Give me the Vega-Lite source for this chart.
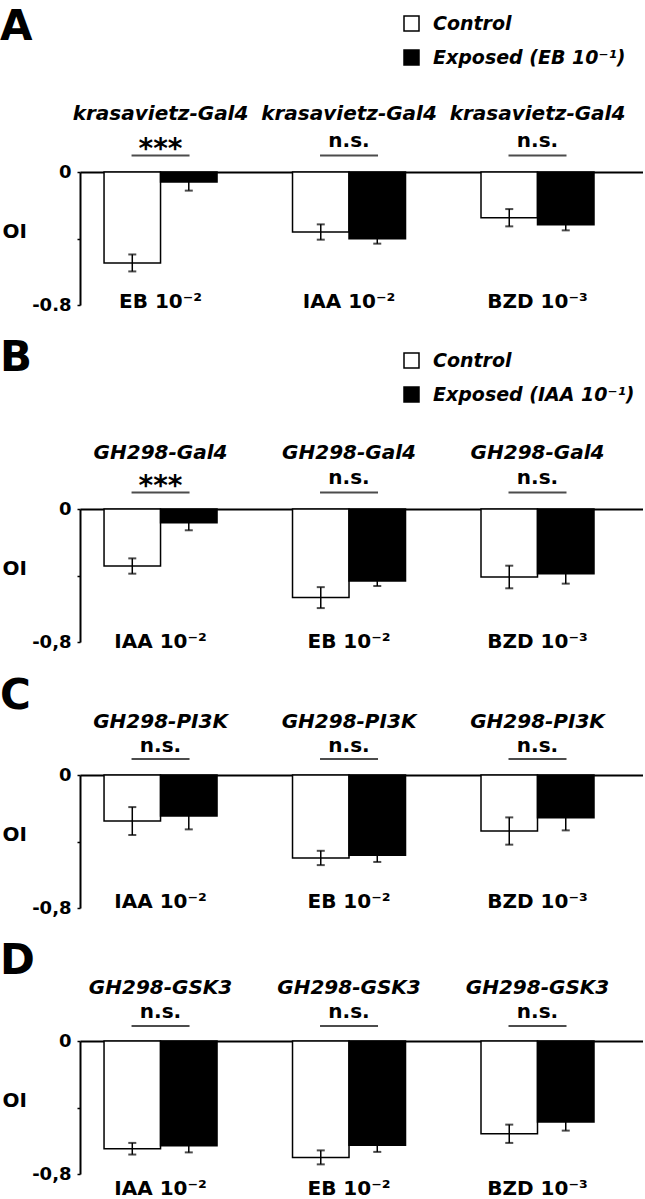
{
  "$schema": "https://vega.github.io/schema/vega-lite/v6.json",
  "padding": {"left": 0, "top": 6, "right": 0, "bottom": 0},
  "background": "white",
  "spacing": 23,
  "config": {
    "view": {"stroke": null},
    "font": "DejaVu Sans",
    "title": {"fontSize": 42, "fontWeight": "bold", "anchor": "start", "frame": "group", "dx": -80, "baseline": "top", "color": "black", "font": "DejaVu Sans"},
    "axisY": {"grid": false, "tickSize": 3, "tickWidth": 1.5, "tickColor": "black", "domainWidth": 2, "domainColor": "black", "labelFontSize": 18, "labelFontWeight": "bold", "labelColor": "black", "labelPadding": 6, "labelOverlap": false, "labelFlush": false, "titleAngle": 0, "titleX": -78, "titleY": 59, "titleAlign": "left", "titleBaseline": "middle", "titleFontSize": 20, "titleFontWeight": "bold", "titleColor": "black"},
    "text": {"font": "DejaVu Sans", "fontWeight": "bold", "fontSize": 20, "color": "black"},
    "legend": {"title": null, "orient": "none", "symbolType": "square", "symbolSize": 225, "symbolStrokeColor": "black", "symbolStrokeWidth": 1.5, "labelFontSize": 19, "labelFontStyle": "italic", "labelFontWeight": "bold", "labelColor": "black", "labelOffset": 12, "rowPadding": 13, "padding": 0, "labelLimit": 400, "symbolOpacity": 1}
  },
  "datasets": {
    "bars": [
      {"panel": "A", "odor": "EB 10⁻²", "cond": "Control", "mean": -0.547, "lo": -0.598, "hi": -0.496, "geno": "krasavietz-Gal4", "sig": "***"},
      {"panel": "A", "odor": "EB 10⁻²", "cond": "Exposed (EB 10⁻¹)", "mean": -0.060, "lo": -0.112, "hi": -0.008, "geno": "krasavietz-Gal4", "sig": "***"},
      {"panel": "A", "odor": "IAA 10⁻²", "cond": "Control", "mean": -0.361, "lo": -0.407, "hi": -0.315, "geno": "krasavietz-Gal4", "sig": "n.s."},
      {"panel": "A", "odor": "IAA 10⁻²", "cond": "Exposed (EB 10⁻¹)", "mean": -0.401, "lo": -0.431, "hi": -0.371, "geno": "krasavietz-Gal4", "sig": "n.s."},
      {"panel": "A", "odor": "BZD 10⁻³", "cond": "Control", "mean": -0.275, "lo": -0.327, "hi": -0.223, "geno": "krasavietz-Gal4", "sig": "n.s."},
      {"panel": "A", "odor": "BZD 10⁻³", "cond": "Exposed (EB 10⁻¹)", "mean": -0.317, "lo": -0.351, "hi": -0.283, "geno": "krasavietz-Gal4", "sig": "n.s."},
      {"panel": "B", "odor": "IAA 10⁻²", "cond": "Control", "mean": -0.343, "lo": -0.389, "hi": -0.297, "geno": "GH298-Gal4", "sig": "***"},
      {"panel": "B", "odor": "IAA 10⁻²", "cond": "Exposed (IAA 10⁻¹)", "mean": -0.082, "lo": -0.128, "hi": -0.036, "geno": "GH298-Gal4", "sig": "***"},
      {"panel": "B", "odor": "EB 10⁻²", "cond": "Control", "mean": -0.533, "lo": -0.596, "hi": -0.470, "geno": "GH298-Gal4", "sig": "n.s."},
      {"panel": "B", "odor": "EB 10⁻²", "cond": "Exposed (IAA 10⁻¹)", "mean": -0.433, "lo": -0.463, "hi": -0.403, "geno": "GH298-Gal4", "sig": "n.s."},
      {"panel": "B", "odor": "BZD 10⁻³", "cond": "Control", "mean": -0.409, "lo": -0.477, "hi": -0.341, "geno": "GH298-Gal4", "sig": "n.s."},
      {"panel": "B", "odor": "BZD 10⁻³", "cond": "Exposed (IAA 10⁻¹)", "mean": -0.389, "lo": -0.449, "hi": -0.329, "geno": "GH298-Gal4", "sig": "n.s."},
      {"panel": "C", "odor": "IAA 10⁻²", "cond": "Control", "mean": -0.277, "lo": -0.361, "hi": -0.193, "geno": "GH298-PI3K", "sig": "n.s."},
      {"panel": "C", "odor": "IAA 10⁻²", "cond": "Exposed", "mean": -0.247, "lo": -0.327, "hi": -0.167, "geno": "GH298-PI3K", "sig": "n.s."},
      {"panel": "C", "odor": "EB 10⁻²", "cond": "Control", "mean": -0.499, "lo": -0.542, "hi": -0.456, "geno": "GH298-PI3K", "sig": "n.s."},
      {"panel": "C", "odor": "EB 10⁻²", "cond": "Exposed", "mean": -0.483, "lo": -0.523, "hi": -0.443, "geno": "GH298-PI3K", "sig": "n.s."},
      {"panel": "C", "odor": "BZD 10⁻³", "cond": "Control", "mean": -0.337, "lo": -0.419, "hi": -0.255, "geno": "GH298-PI3K", "sig": "n.s."},
      {"panel": "C", "odor": "BZD 10⁻³", "cond": "Exposed", "mean": -0.257, "lo": -0.333, "hi": -0.181, "geno": "GH298-PI3K", "sig": "n.s."},
      {"panel": "D", "odor": "IAA 10⁻²", "cond": "Control", "mean": -0.648, "lo": -0.683, "hi": -0.613, "geno": "GH298-GSK3", "sig": "n.s."},
      {"panel": "D", "odor": "IAA 10⁻²", "cond": "Exposed", "mean": -0.630, "lo": -0.670, "hi": -0.590, "geno": "GH298-GSK3", "sig": "n.s."},
      {"panel": "D", "odor": "EB 10⁻²", "cond": "Control", "mean": -0.700, "lo": -0.742, "hi": -0.658, "geno": "GH298-GSK3", "sig": "n.s."},
      {"panel": "D", "odor": "EB 10⁻²", "cond": "Exposed", "mean": -0.627, "lo": -0.667, "hi": -0.587, "geno": "GH298-GSK3", "sig": "n.s."},
      {"panel": "D", "odor": "BZD 10⁻³", "cond": "Control", "mean": -0.558, "lo": -0.613, "hi": -0.503, "geno": "GH298-GSK3", "sig": "n.s."},
      {"panel": "D", "odor": "BZD 10⁻³", "cond": "Exposed", "mean": -0.487, "lo": -0.539, "hi": -0.435, "geno": "GH298-GSK3", "sig": "n.s."}
    ]
  },
  "resolve": {"scale": {"fill": "independent"}, "legend": {"fill": "independent"}},
  "vconcat": [
    {
      "title": {"text": "A", "offset": -35},
      "width": 563, "height": 133,
      "data": {"name": "bars"},
      "transform": [{"filter": "datum.panel == 'A'"}],
      "encoding": {
        "x": {"field": "odor", "type": "nominal", "sort": null, "scale": {"paddingInner": 0.398, "paddingOuter": 0.1925, "align": 0.328}, "axis": {"orient": "top", "labels": false, "ticks": false, "title": null, "domainWidth": 2, "domainColor": "black"}}
      },
      "layer": [
        {"transform": [{"filter": "datum.cond == 'Control'"}],
         "mark": {"type": "bar", "stroke": "black", "strokeWidth": 1.5, "width": 56.5, "xOffset": -28.25},
         "encoding": {
           "y": {"field": "mean", "type": "quantitative", "scale": {"domain": [-0.8, 0], "nice": false, "zero": false}, "axis": {"title": "OI", "values": [0, -0.1, -0.2, -0.3, -0.4, -0.5, -0.6, -0.7, -0.8], "labelExpr": "datum.value == 0 ? '0' : (datum.value < -0.79 ? '-0.8' : '')"}},
           "fill": {"field": "cond", "type": "nominal", "scale": {"range": ["white", "black"]}, "legend": {"legendX": 322, "legendY": -158}}
         }},
        {"transform": [{"filter": "datum.cond != 'Control'"}],
         "mark": {"type": "bar", "stroke": "black", "strokeWidth": 1.5, "width": 56.5, "xOffset": 28.25},
         "encoding": {
           "y": {"field": "mean", "type": "quantitative"},
           "fill": {"field": "cond", "type": "nominal", "legend": {"legendX": 322, "legendY": -158}}
         }},
        {"transform": [{"filter": "datum.cond == 'Control'"}],
         "mark": {"type": "rule", "strokeWidth": 1.5, "color": "black", "xOffset": -28.25},
         "encoding": {"y": {"field": "lo", "type": "quantitative"}, "y2": {"field": "hi"}}},
        {"transform": [{"filter": "datum.cond != 'Control'"}],
         "mark": {"type": "rule", "strokeWidth": 1.5, "color": "black", "xOffset": 28.25},
         "encoding": {"y": {"field": "lo", "type": "quantitative"}, "y2": {"field": "hi"}}},
        {"transform": [{"filter": "datum.cond == 'Control'"}, {"fold": ["lo", "hi"], "as": ["end", "endval"]}],
         "mark": {"type": "tick", "orient": "horizontal", "size": 8, "thickness": 2, "color": "black", "xOffset": -28.25},
         "encoding": {"y": {"field": "endval", "type": "quantitative"}}},
        {"transform": [{"filter": "datum.cond != 'Control'"}, {"fold": ["lo", "hi"], "as": ["end", "endval"]}],
         "mark": {"type": "tick", "orient": "horizontal", "size": 8, "thickness": 2, "color": "black", "xOffset": 28.25},
         "encoding": {"y": {"field": "endval", "type": "quantitative"}}},
        {"transform": [{"filter": "datum.cond == 'Control'"}],
         "mark": {"type": "text", "fontStyle": "italic", "baseline": "alphabetic", "dy": -52},
         "encoding": {"y": {"datum": 0, "type": "quantitative"}, "text": {"field": "geno"}}},
        {"transform": [{"filter": "datum.cond == 'Control' && datum.sig == 'n.s.'"}],
         "mark": {"type": "text", "baseline": "alphabetic", "dy": -25},
         "encoding": {"y": {"datum": 0, "type": "quantitative"}, "text": {"field": "sig"}}},
        {"transform": [{"filter": "datum.cond == 'Control' && datum.sig == '***'"}],
         "mark": {"type": "text", "baseline": "alphabetic", "fontSize": 28, "dy": -14},
         "encoding": {"y": {"datum": 0, "type": "quantitative"}, "text": {"field": "sig"}}},
        {"transform": [{"filter": "datum.cond == 'Control'"}],
         "mark": {"type": "tick", "orient": "horizontal", "size": 58, "thickness": 2, "color": "black", "yOffset": -16.5},
         "encoding": {"y": {"datum": 0, "type": "quantitative"}}},
        {"transform": [{"filter": "datum.cond == 'Control'"}],
         "mark": {"type": "text", "baseline": "middle", "dy": -3},
         "encoding": {"y": {"datum": -0.8, "type": "quantitative"}, "text": {"field": "odor"}}}
      ]
    },
    {
      "title": {"text": "B", "offset": -29},
      "width": 563, "height": 133,
      "data": {"name": "bars"},
      "transform": [{"filter": "datum.panel == 'B'"}],
      "encoding": {
        "x": {"field": "odor", "type": "nominal", "sort": null, "scale": {"paddingInner": 0.398, "paddingOuter": 0.1925, "align": 0.328}, "axis": {"orient": "top", "labels": false, "ticks": false, "title": null, "domainWidth": 2, "domainColor": "black"}}
      },
      "layer": [
        {"transform": [{"filter": "datum.cond == 'Control'"}],
         "mark": {"type": "bar", "stroke": "black", "strokeWidth": 1.5, "width": 56.5, "xOffset": -28.25},
         "encoding": {
           "y": {"field": "mean", "type": "quantitative", "scale": {"domain": [-0.8, 0], "nice": false, "zero": false}, "axis": {"title": "OI", "values": [0, -0.1, -0.2, -0.3, -0.4, -0.5, -0.6, -0.7, -0.8], "labelExpr": "datum.value == 0 ? '0' : (datum.value < -0.79 ? '-0,8' : '')"}},
           "fill": {"field": "cond", "type": "nominal", "scale": {"range": ["white", "black"]}, "legend": {"legendX": 322, "legendY": -158}}
         }},
        {"transform": [{"filter": "datum.cond != 'Control'"}],
         "mark": {"type": "bar", "stroke": "black", "strokeWidth": 1.5, "width": 56.5, "xOffset": 28.25},
         "encoding": {
           "y": {"field": "mean", "type": "quantitative"},
           "fill": {"field": "cond", "type": "nominal", "legend": {"legendX": 322, "legendY": -158}}
         }},
        {"transform": [{"filter": "datum.cond == 'Control'"}],
         "mark": {"type": "rule", "strokeWidth": 1.5, "color": "black", "xOffset": -28.25},
         "encoding": {"y": {"field": "lo", "type": "quantitative"}, "y2": {"field": "hi"}}},
        {"transform": [{"filter": "datum.cond != 'Control'"}],
         "mark": {"type": "rule", "strokeWidth": 1.5, "color": "black", "xOffset": 28.25},
         "encoding": {"y": {"field": "lo", "type": "quantitative"}, "y2": {"field": "hi"}}},
        {"transform": [{"filter": "datum.cond == 'Control'"}, {"fold": ["lo", "hi"], "as": ["end", "endval"]}],
         "mark": {"type": "tick", "orient": "horizontal", "size": 8, "thickness": 2, "color": "black", "xOffset": -28.25},
         "encoding": {"y": {"field": "endval", "type": "quantitative"}}},
        {"transform": [{"filter": "datum.cond != 'Control'"}, {"fold": ["lo", "hi"], "as": ["end", "endval"]}],
         "mark": {"type": "tick", "orient": "horizontal", "size": 8, "thickness": 2, "color": "black", "xOffset": 28.25},
         "encoding": {"y": {"field": "endval", "type": "quantitative"}}},
        {"transform": [{"filter": "datum.cond == 'Control'"}],
         "mark": {"type": "text", "fontStyle": "italic", "baseline": "alphabetic", "dy": -50},
         "encoding": {"y": {"datum": 0, "type": "quantitative"}, "text": {"field": "geno"}}},
        {"transform": [{"filter": "datum.cond == 'Control' && datum.sig == 'n.s.'"}],
         "mark": {"type": "text", "baseline": "alphabetic", "dy": -25},
         "encoding": {"y": {"datum": 0, "type": "quantitative"}, "text": {"field": "sig"}}},
        {"transform": [{"filter": "datum.cond == 'Control' && datum.sig == '***'"}],
         "mark": {"type": "text", "baseline": "alphabetic", "fontSize": 28, "dy": -14},
         "encoding": {"y": {"datum": 0, "type": "quantitative"}, "text": {"field": "sig"}}},
        {"transform": [{"filter": "datum.cond == 'Control'"}],
         "mark": {"type": "tick", "orient": "horizontal", "size": 58, "thickness": 2, "color": "black", "yOffset": -16.5},
         "encoding": {"y": {"datum": 0, "type": "quantitative"}}},
        {"transform": [{"filter": "datum.cond == 'Control'"}],
         "mark": {"type": "text", "baseline": "middle", "dy": 0},
         "encoding": {"y": {"datum": -0.8, "type": "quantitative"}, "text": {"field": "odor"}}}
      ]
    },
    {
      "title": {"text": "C", "offset": -6},
      "width": 563, "height": 133,
      "data": {"name": "bars"},
      "transform": [{"filter": "datum.panel == 'C'"}],
      "encoding": {
        "x": {"field": "odor", "type": "nominal", "sort": null, "scale": {"paddingInner": 0.398, "paddingOuter": 0.1925, "align": 0.328}, "axis": {"orient": "top", "labels": false, "ticks": false, "title": null, "domainWidth": 2, "domainColor": "black"}}
      },
      "layer": [
        {"transform": [{"filter": "datum.cond == 'Control'"}],
         "mark": {"type": "bar", "stroke": "black", "strokeWidth": 1.5, "width": 56.5, "xOffset": -28.25},
         "encoding": {
           "y": {"field": "mean", "type": "quantitative", "scale": {"domain": [-0.8, 0], "nice": false, "zero": false}, "axis": {"title": "OI", "values": [0, -0.1, -0.2, -0.3, -0.4, -0.5, -0.6, -0.7, -0.8], "labelExpr": "datum.value == 0 ? '0' : (datum.value < -0.79 ? '-0,8' : '')"}},
           "fill": {"field": "cond", "type": "nominal", "scale": {"range": ["white", "black"]}, "legend": null}
         }},
        {"transform": [{"filter": "datum.cond != 'Control'"}],
         "mark": {"type": "bar", "stroke": "black", "strokeWidth": 1.5, "width": 56.5, "xOffset": 28.25},
         "encoding": {
           "y": {"field": "mean", "type": "quantitative"},
           "fill": {"field": "cond", "type": "nominal", "legend": null}
         }},
        {"transform": [{"filter": "datum.cond == 'Control'"}],
         "mark": {"type": "rule", "strokeWidth": 1.5, "color": "black", "xOffset": -28.25},
         "encoding": {"y": {"field": "lo", "type": "quantitative"}, "y2": {"field": "hi"}}},
        {"transform": [{"filter": "datum.cond != 'Control'"}],
         "mark": {"type": "rule", "strokeWidth": 1.5, "color": "black", "xOffset": 28.25},
         "encoding": {"y": {"field": "lo", "type": "quantitative"}, "y2": {"field": "hi"}}},
        {"transform": [{"filter": "datum.cond == 'Control'"}, {"fold": ["lo", "hi"], "as": ["end", "endval"]}],
         "mark": {"type": "tick", "orient": "horizontal", "size": 8, "thickness": 2, "color": "black", "xOffset": -28.25},
         "encoding": {"y": {"field": "endval", "type": "quantitative"}}},
        {"transform": [{"filter": "datum.cond != 'Control'"}, {"fold": ["lo", "hi"], "as": ["end", "endval"]}],
         "mark": {"type": "tick", "orient": "horizontal", "size": 8, "thickness": 2, "color": "black", "xOffset": 28.25},
         "encoding": {"y": {"field": "endval", "type": "quantitative"}}},
        {"transform": [{"filter": "datum.cond == 'Control'"}],
         "mark": {"type": "text", "fontStyle": "italic", "baseline": "alphabetic", "dy": -47},
         "encoding": {"y": {"datum": 0, "type": "quantitative"}, "text": {"field": "geno"}}},
        {"transform": [{"filter": "datum.cond == 'Control'"}],
         "mark": {"type": "text", "baseline": "alphabetic", "dy": -23},
         "encoding": {"y": {"datum": 0, "type": "quantitative"}, "text": {"field": "sig"}}},
        {"transform": [{"filter": "datum.cond == 'Control'"}],
         "mark": {"type": "tick", "orient": "horizontal", "size": 58, "thickness": 2, "color": "black", "yOffset": -16},
         "encoding": {"y": {"datum": 0, "type": "quantitative"}}},
        {"transform": [{"filter": "datum.cond == 'Control'"}],
         "mark": {"type": "text", "baseline": "middle", "dy": -6},
         "encoding": {"y": {"datum": -0.8, "type": "quantitative"}, "text": {"field": "odor"}}}
      ]
    },
    {
      "title": {"text": "D", "offset": -5},
      "width": 563, "height": 133,
      "data": {"name": "bars"},
      "transform": [{"filter": "datum.panel == 'D'"}],
      "encoding": {
        "x": {"field": "odor", "type": "nominal", "sort": null, "scale": {"paddingInner": 0.398, "paddingOuter": 0.1925, "align": 0.328}, "axis": {"orient": "top", "labels": false, "ticks": false, "title": null, "domainWidth": 2, "domainColor": "black"}}
      },
      "layer": [
        {"transform": [{"filter": "datum.cond == 'Control'"}],
         "mark": {"type": "bar", "stroke": "black", "strokeWidth": 1.5, "width": 56.5, "xOffset": -28.25},
         "encoding": {
           "y": {"field": "mean", "type": "quantitative", "scale": {"domain": [-0.8, 0], "nice": false, "zero": false}, "axis": {"title": "OI", "values": [0, -0.1, -0.2, -0.3, -0.4, -0.5, -0.6, -0.7, -0.8], "labelExpr": "datum.value == 0 ? '0' : (datum.value < -0.79 ? '-0,8' : '')"}},
           "fill": {"field": "cond", "type": "nominal", "scale": {"range": ["white", "black"]}, "legend": null}
         }},
        {"transform": [{"filter": "datum.cond != 'Control'"}],
         "mark": {"type": "bar", "stroke": "black", "strokeWidth": 1.5, "width": 56.5, "xOffset": 28.25},
         "encoding": {
           "y": {"field": "mean", "type": "quantitative"},
           "fill": {"field": "cond", "type": "nominal", "legend": null}
         }},
        {"transform": [{"filter": "datum.cond == 'Control'"}],
         "mark": {"type": "rule", "strokeWidth": 1.5, "color": "black", "xOffset": -28.25},
         "encoding": {"y": {"field": "lo", "type": "quantitative"}, "y2": {"field": "hi"}}},
        {"transform": [{"filter": "datum.cond != 'Control'"}],
         "mark": {"type": "rule", "strokeWidth": 1.5, "color": "black", "xOffset": 28.25},
         "encoding": {"y": {"field": "lo", "type": "quantitative"}, "y2": {"field": "hi"}}},
        {"transform": [{"filter": "datum.cond == 'Control'"}, {"fold": ["lo", "hi"], "as": ["end", "endval"]}],
         "mark": {"type": "tick", "orient": "horizontal", "size": 8, "thickness": 2, "color": "black", "xOffset": -28.25},
         "encoding": {"y": {"field": "endval", "type": "quantitative"}}},
        {"transform": [{"filter": "datum.cond != 'Control'"}, {"fold": ["lo", "hi"], "as": ["end", "endval"]}],
         "mark": {"type": "tick", "orient": "horizontal", "size": 8, "thickness": 2, "color": "black", "xOffset": 28.25},
         "encoding": {"y": {"field": "endval", "type": "quantitative"}}},
        {"transform": [{"filter": "datum.cond == 'Control'"}],
         "mark": {"type": "text", "fontStyle": "italic", "baseline": "alphabetic", "dy": -47},
         "encoding": {"y": {"datum": 0, "type": "quantitative"}, "text": {"field": "geno"}}},
        {"transform": [{"filter": "datum.cond == 'Control'"}],
         "mark": {"type": "text", "baseline": "alphabetic", "dy": -23},
         "encoding": {"y": {"datum": 0, "type": "quantitative"}, "text": {"field": "sig"}}},
        {"transform": [{"filter": "datum.cond == 'Control'"}],
         "mark": {"type": "tick", "orient": "horizontal", "size": 58, "thickness": 2, "color": "black", "yOffset": -15},
         "encoding": {"y": {"datum": 0, "type": "quantitative"}}},
        {"transform": [{"filter": "datum.cond == 'Control'"}],
         "mark": {"type": "text", "baseline": "middle", "dy": 15},
         "encoding": {"y": {"datum": -0.8, "type": "quantitative"}, "text": {"field": "odor"}}}
      ]
    }
  ]
}
